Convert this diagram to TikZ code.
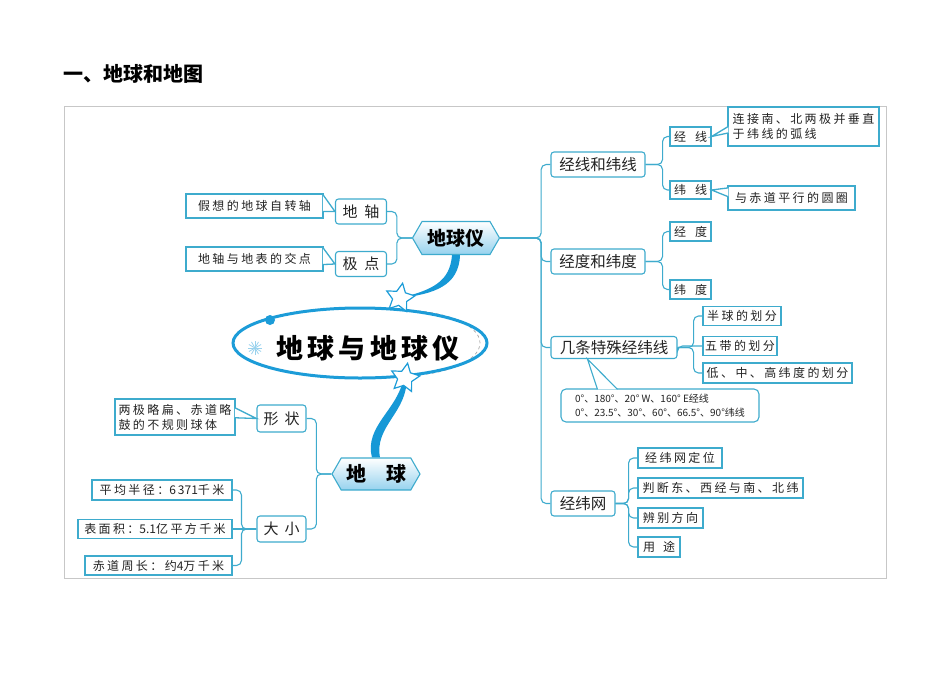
\documentclass[tikz,border=0pt]{standalone}
\usepackage{fontspec}
\setmainfont{Noto Sans CJK SC}
\newfontfamily\cjksp[LetterSpace=20]{Noto Sans CJK SC}
\newfontfamily\cjkbig[LetterSpace=16]{Noto Sans CJK SC}
\usetikzlibrary{shapes.symbols,shapes.geometric,calc}
\definecolor{bc}{RGB}{62,171,205}
\definecolor{tc}{RGB}{22,152,214}
\definecolor{ec}{RGB}{28,156,216}
\definecolor{txt}{RGB}{35,35,35}
\definecolor{hexfill}{RGB}{150,210,238}
\newcommand\fsz[2]{\fontsize{#1}{#2}\selectfont}
\newcommand\plainnum[1]{{\rmfamily #1}}
\tikzset{
  sz/.style 2 args={minimum width=#1pt, minimum height=#2pt},
  lvtwo/.style={draw=bc, line width=1.1pt, fill=white, rounded corners=3pt, inner sep=0pt, text=txt, font=\fsz{15.5}{18}},
  lvthree/.style={draw=bc, line width=1.1pt, fill=white, inner sep=0pt, text=txt, font=\fsz{12}{14}},
  leaf/.style={draw=bc, line width=1.3pt, fill=white, inner sep=0pt, text=txt, font=\cjksp\fsz{12}{15}, align=center},
  hexnode/.style={signal, signal to=west and east, signal pointer angle=120, draw=bc, line width=1.1pt, top color=white, bottom color=hexfill, inner sep=0pt, text=black, font=\bfseries\fsz{19}{22}},
  conn/.style={draw=bc, line width=1.1pt, rounded corners=5pt},
  ptr/.style={draw=bc, line width=1.3pt, fill=white},
  starnode/.style={star, star points=5, star point ratio=2.0, draw=ec, fill=white, line width=1.2pt, minimum size=30pt, inner sep=0pt, rotate=-10}
}
\begin{document}
\begin{tikzpicture}[x=1pt,y=-1pt]
\useasboundingbox (0,0) rectangle (950,672);
\node[anchor=west, font=\bfseries\fsz{20}{24}, text=black] (title) at (60,74) {一、地球和地图};
\draw[black!22, line width=0.8pt] (64,106) rectangle (886,578);

% central ellipse
\draw[black!35, dashed, line width=0.7pt] (400,310) arc[start angle=90, end angle=-90, x radius=80pt, y radius=33pt];
\node[ellipse, draw=ec, line width=3pt, sz={254}{70}, inner sep=0pt] (ell) at (360,343) {};
\node[font=\cjkbig\bfseries\fsz{27}{30}, text=black] (ctr) at (368,348) {地球与地球仪};
\node[circle, fill=ec, sz={10}{10}, inner sep=0pt] (dot) at (270,320) {};
\foreach \a in {0,30,...,330} \draw[ec!45, line width=0.8pt] (255,348) -- ++(\a:7pt);

% 地球仪 side
\node[hexnode, sz={87}{33}] (dqy) at (456,238) {地球仪};
\node[lvtwo, font=\fsz{15}{18}, sz={51}{25}] (dz) at (361,211.5) {地\hspace{7pt}轴};
\node[lvtwo, font=\fsz{15}{18}, sz={51}{25}] (jd) at (361,264) {极\hspace{7pt}点};
\node[leaf, sz={137}{24}] (Ldz) at (254.5,206) {假想的地球自转轴};
\node[leaf, sz={137}{24}] (Ljd) at (254.5,259) {地轴与地表的交点};

\node[lvtwo, sz={94}{25}] (jxwx) at (598,164.5) {经线和纬线};
\node[lvtwo, sz={94}{25}] (jdwd) at (598,261.5) {经度和纬度};
\node[lvtwo, sz={126}{22}] (tsx) at (614,347.5) {几条特殊经纬线};
\node[lvtwo, sz={64}{25}] (jww) at (583,503.5) {经纬网};

\node[lvthree, sz={41}{19}] (jx) at (690.5,136.5) {经\hspace{9pt}线};
\node[lvthree, sz={41}{18}] (wx) at (690.5,190) {纬\hspace{9pt}线};
\node[lvthree, sz={41}{19}] (jdu) at (690.5,231.5) {经\hspace{9pt}度};
\node[lvthree, sz={41}{19}] (wdu) at (690.5,289.5) {纬\hspace{9pt}度};
\node[leaf, sz={151}{39}, align=left] (Ljx) at (803.5,126.5) {连接南、北两极并垂直\\于纬线的弧线\hspace{57pt}};
\node[leaf, sz={127}{24}] (Lwx) at (791.5,198) {与赤道平行的圆圈};

\node[leaf, sz={78}{19}] (bq) at (742,316) {半球的划分};
\node[leaf, sz={74}{19}] (wd) at (740,346) {五带的划分};
\node[leaf, sz={149}{20}] (dzg) at (777.5,373) {低、中、高纬度的划分};
\node[leaf, rounded corners=5pt, line width=1.1pt, sz={198}{33}, align=left, font=\fsz{10}{14}] (tsnote) at (660,405.5) {0°、180°、20° W、160° E经线\\0°、23.5°、30°、60°、66.5°、90°纬线};

\node[leaf, sz={84}{20}] (jwdw) at (680,458) {经纬网定位};
\node[leaf, sz={165}{20}] (pd) at (720.5,488) {判断东、西经与南、北纬};
\node[leaf, sz={65}{20}] (bb) at (670.5,518) {辨别方向};
\node[leaf, sz={42}{20}] (yt) at (659,547) {用\hspace{8pt}途};

% 地球 side
\node[hexnode, sz={88}{32}, font=\bfseries\fsz{20}{22}] (dq) at (376,474) {地\hspace{20pt}球};
\node[lvtwo, font=\fsz{15}{18}, sz={49}{27}] (xz) at (281.5,418.5) {形\hspace{6pt}状};
\node[lvtwo, font=\fsz{15}{18}, sz={49}{26}] (dx) at (281.5,529) {大\hspace{6pt}小};
\node[leaf, sz={120}{36}, align=left] (Lxz) at (175,417) {两极略扁、赤道略\\鼓的不规则球体};
\node[leaf, sz={140}{20}] (r1) at (162,490) {平均半径：\plainnum{6\,371}千米};
\node[leaf, sz={154}{19}] (r2) at (155,529) {表面积：\plainnum{5.1}亿平方千米};
\node[leaf, sz={147}{19}] (r3) at (158.5,565.5) {赤道周长：约\plainnum{4}万千米};

% connectors
\draw[conn] (dqy.west) -- ++(-15,0) |- (dz.east);
\draw[conn] (dqy.west) -- ++(-15,0) |- (jd.east);
\foreach \n in {jxwx,jdwd,tsx,jww} \draw[conn] (dqy.east) -- ++(41,0) |- (\n.west);
\foreach \n in {jx,wx} \draw[conn] (jxwx.east) -- ++(17,0) |- (\n.west);
\foreach \n in {jdu,wdu} \draw[conn] (jdwd.east) -- ++(17,0) |- (\n.west);
\foreach \n in {bq,dzg} \draw[conn] (tsx.east) -- ++(16,0) |- (\n.west);
\draw[conn] (tsx.east) -- (wd.west -| tsx.east) -- (wd.west);
\foreach \n in {jwdw,pd,bb,yt} \draw[conn] (jww.east) -- ++(13,0) |- (\n.west);
\foreach \n in {xz,dx} \draw[conn] (dq.west) -- ++(-15,0) |- (\n.east);
\foreach \n in {r1,r3} \draw[conn] (dx.west) -- ++(-15,0) |- (\n.east);
\draw[conn] (dx.west) -- (r2.east);

% callout pointers
\filldraw[ptr] ($(Ldz.north east)!0.04!(Ldz.south east)+(-0.9pt,0)$) -- (dz.west) -- ($(Ldz.north east)!0.72!(Ldz.south east)+(-0.9pt,0)$);
\filldraw[ptr] ($(Ljd.north east)!0.04!(Ljd.south east)+(-0.9pt,0)$) -- (jd.west) -- ($(Ljd.north east)!0.72!(Ljd.south east)+(-0.9pt,0)$);
\filldraw[ptr] ($(Ljx.north west)!0.5!(Ljx.south west)+(0.9pt,0)$) -- (jx.east) -- ($(Ljx.north west)!0.66!(Ljx.south west)+(0.9pt,0)$);
\filldraw[ptr] ($(Lwx.north west)!0.1!(Lwx.south west)+(0.9pt,0)$) -- (wx.east) -- ($(Lwx.north west)!0.45!(Lwx.south west)+(0.9pt,0)$);
\filldraw[ptr] ($(Lxz.north east)!0.25!(Lxz.south east)+(-0.9pt,0)$) -- (xz.west) -- ($(Lxz.north east)!0.52!(Lxz.south east)+(-0.9pt,0)$);
\filldraw[ptr, line width=1.1pt] ($(tsnote.north west)+(37pt,-0.9pt)$) -- ($(tsx.south west)+(37pt,0)$) -- ($(tsnote.north west)+(57pt,-0.9pt)$);

% thick curves and stars
\coordinate (s1c) at (400,298);
\coordinate (s2c) at (405,378);
\fill[tc] ($(dqy.south)+(-4pt,0)$) .. controls (450,282) and (432,290) .. (s1c) .. controls (434,294) and (459,286) .. ($(dqy.south)+(4pt,0)$) -- cycle;
\fill[tc] ($(s2c)+(-1.5pt,0)$) .. controls (398,410) and (364,426) .. ($(dq.north)+(-4pt,0)$) -- ($(dq.north)+(4pt,0)$) .. controls (374,426) and (408,412) .. ($(s2c)+(1.5pt,0)$) -- cycle;
\node[starnode] (s1) at (s1c) {};
\node[starnode] (s2) at (s2c) {};
\end{tikzpicture}
\end{document}
